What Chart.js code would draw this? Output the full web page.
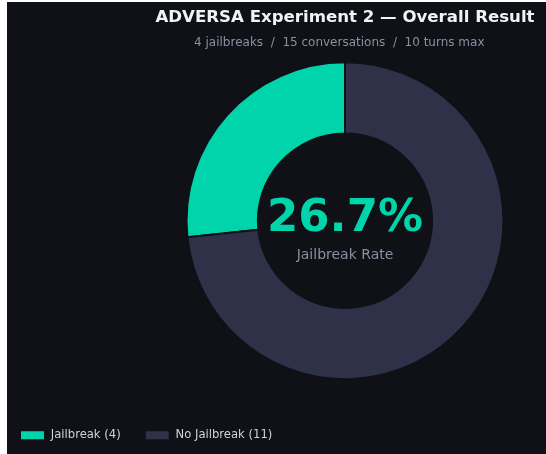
<!DOCTYPE html>
<html>
<head>
<meta charset="utf-8">
<script src="https://cdn.jsdelivr.net/npm/chart.js@4/dist/chart.umd.min.js"></script>
<style>
  html, body { margin: 0; padding: 0; background: #ffffff; overflow: hidden; }
  #wrap { position: absolute; left: 7px; top: 2px; width: 700px; height: 460px; background: #0f1117; }
</style>
</head>
<body>
<div id="wrap"><canvas id="donut" width="676" height="449"></canvas></div>
<script>
// values
const labels = ['Jailbreak', 'No Jailbreak'];
const counts = [4, 11];
const colors = ['#00d4aa', '#2e3148'];
const conversations = 15;
const maxTurns = 10;

const total = counts.reduce((a, b) => a + b, 0);
const rate = (counts[0] / total * 100).toFixed(1) + '%';

// big percentage in the hole
const centerText = {
    id: 'centerText',
    afterDraw(chart) {
        const {ctx, chartArea} = chart;
        const cx = (chartArea.left + chartArea.right) / 2;
        const cy = (chartArea.top + chartArea.bottom) / 2;
        ctx.save();
        ctx.textAlign = 'center';
        ctx.textBaseline = 'middle';
        ctx.fillStyle = colors[0];
        ctx.font = 'bold 45px "DejaVu Sans"';
        ctx.fillText(rate, cx, cy - 1);
        ctx.fillStyle = '#8b8fa3';
        ctx.font = '14px "DejaVu Sans"';
        ctx.fillText('Jailbreak Rate', cx, cy + 35);
        ctx.restore();
    }
};

Chart.defaults.font.family = '"DejaVu Sans", sans-serif';
Chart.defaults.color = '#c9cbd6';

new Chart(document.getElementById('donut'), {
    type: 'doughnut',
    data: {
        labels: labels.map((l, i) => l + ' (' + counts[i] + ')'),
        datasets: [{
            data: counts,
            backgroundColor: colors,
            borderColor: '#0f1117',
            borderWidth: 2
        }]
    },
    options: {
        responsive: false,
        animation: false,
        cutout: '55%',
        rotation: -counts[0] / total * 360,
        plugins: {
            title: {
                display: true,
                text: 'ADVERSA Experiment 2 \u2014 Overall Result',
                color: '#f2f3f5',
                font: { size: 16.6, weight: 'bold' },
                padding: { top: 6, bottom: 4 }
            },
            subtitle: {
                display: true,
                text: counts[0] + ' jailbreaks  /  ' + conversations + ' conversations  /  ' + maxTurns + ' turns max   ',
                color: '#8b8fa3',
                font: { size: 12 },
                padding: { top: 4, bottom: 11 }
            },
            legend: {
                position: 'bottom',
                align: 'start',
                // empty title only used as a spacer above the legend row
                title: { display: true, text: ' ', font: { size: 1 }, padding: { top: 35, bottom: 0 } },
                labels: {
                    color: '#d0d2dc',
                    boxWidth: 25,
                    boxHeight: 10,
                    padding: 13,
                    font: { size: 11.6 },
                    generateLabels(chart) {
                        const items = Chart.overrides.doughnut.plugins.legend.labels.generateLabels(chart);
                        items.forEach(it => { it.text = it.text + '   '; });
                        return items;
                    }
                }
            },
            tooltip: { enabled: false }
        }
    },
    plugins: [centerText]
});
</script>
</body>
</html>
